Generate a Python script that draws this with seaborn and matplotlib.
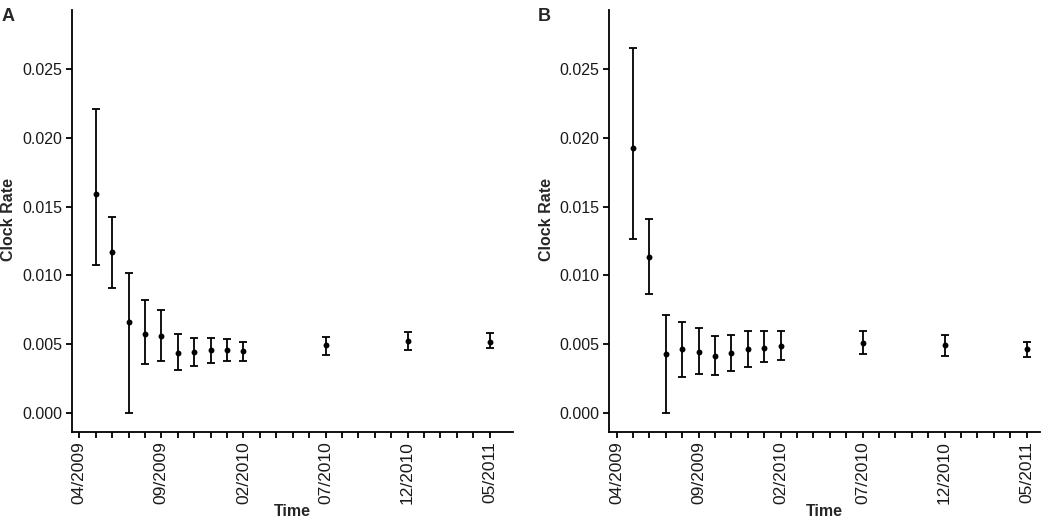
import matplotlib
matplotlib.use("Agg")
import matplotlib.pyplot as plt
import pandas as pd
import seaborn as sns

# sampling months (x) shared by both panels
months = ["05/2009", "06/2009", "07/2009", "08/2009", "09/2009", "10/2009",
          "11/2009", "12/2009", "01/2010", "02/2010", "07/2010", "12/2010", "05/2011"]
tick_labels = ["04/2009", "09/2009", "02/2010", "07/2010", "12/2010", "05/2011"]
y_ticks = [0.0, 0.005, 0.010, 0.015, 0.020, 0.025]

# panel A: clock rate with lower / upper bounds
rate_a = [0.01594, 0.01167, 0.00662, 0.00570, 0.00556, 0.00434, 0.00444,
          0.00459, 0.00459, 0.00451, 0.00490, 0.00524, 0.00517]
low_a = [0.01072, 0.00907, 0.00000, 0.00354, 0.00378, 0.00313, 0.00342,
         0.00366, 0.00378, 0.00378, 0.00420, 0.00459, 0.00471]
high_a = [0.02210, 0.01422, 0.01017, 0.00820, 0.00750, 0.00570, 0.00548,
          0.00548, 0.00539, 0.00519, 0.00551, 0.00585, 0.00580]

# panel B
rate_b = [0.01926, 0.01130, 0.00429, 0.00463, 0.00442, 0.00410, 0.00434,
          0.00463, 0.00475, 0.00488, 0.00507, 0.00495, 0.00463]
low_b = [0.01266, 0.00864, 0.00000, 0.00264, 0.00284, 0.00277, 0.00308,
         0.00337, 0.00373, 0.00383, 0.00427, 0.00417, 0.00403]
high_b = [0.02656, 0.01407, 0.00711, 0.00662, 0.00614, 0.00556, 0.00563,
          0.00597, 0.00597, 0.00592, 0.00597, 0.00563, 0.00515]

START = pd.Timestamp("2009-04-01")


def month_index(labels):
    d = pd.to_datetime(labels, format="%m/%Y")
    return list((d.year - START.year) * 12 + (d.month - START.month))


sns.set_theme(style="ticks")
plt.rcParams["font.family"] = ["Liberation Sans", "DejaVu Sans"]
plt.rcParams["axes.linewidth"] = 1.3
plt.rcParams["xtick.major.width"] = 1.3
plt.rcParams["ytick.major.width"] = 1.3
plt.rcParams["xtick.major.size"] = 4
plt.rcParams["ytick.major.size"] = 4

fig = plt.figure(figsize=(10.5, 5.2), dpi=100)
ax_a = fig.add_axes([0.0686, 0.170, 0.420, 0.811])
ax_b = fig.add_axes([0.5803, 0.170, 0.410, 0.811])

panels = [
    (ax_a, rate_a, low_a, high_a, 26.42, -0.127),
    (ax_b, rate_b, low_b, high_b, 25.81, -0.128),
]

lab_idx = month_index(tick_labels)
ticks = list(range(0, 26))

for ax, rate, low, high, xmax, ylab_x in panels:
    df = pd.DataFrame({"x": month_index(months), "rate": rate, "low": low, "high": high})
    ax.errorbar(df["x"], df["rate"],
                yerr=[df["rate"] - df["low"], df["high"] - df["rate"]],
                fmt="none", ecolor="black", elinewidth=1.3, capsize=2.6, capthick=1.3)
    sns.scatterplot(data=df, x="x", y="rate", ax=ax, color="black", s=18,
                    edgecolor="black", linewidth=0, zorder=3)

    ax.set_xlim(-0.44, xmax)
    ax.set_ylim(-0.00136, 0.0293)
    ax.set_yticks(y_ticks)
    ax.set_yticklabels([f"{v:.3f}" for v in y_ticks], fontsize=11.5)
    ax.set_xticks(ticks)
    ax.set_xticklabels([tick_labels[lab_idx.index(t)] if t in lab_idx else "" for t in ticks],
                       rotation=90, fontsize=12.5)
    ax.tick_params(axis="both", colors="black", labelcolor="#1a1a1a", pad=3)

    ax.set_xlabel("Time", fontsize=11.5, fontweight="bold", labelpad=0)
    ax.set_ylabel("Clock Rate", fontsize=11.5, fontweight="bold")
    ax.yaxis.set_label_coords(ylab_x, 0.502)
    sns.despine(ax=ax)
    for sp in ax.spines.values():
        sp.set_color("black")

fig.text(0.001, 0.985, "A", fontsize=13, fontweight="bold", va="top", ha="left")
fig.text(0.5125, 0.985, "B", fontsize=13, fontweight="bold", va="top", ha="left")

fig.savefig("out.png", dpi=100)
